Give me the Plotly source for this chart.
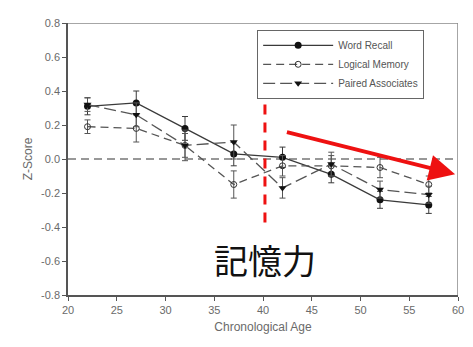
import plotly.graph_objects as go

ages = [22, 27, 32, 37, 42, 47, 52, 57]
word_recall = [0.31, 0.33, 0.18, 0.03, 0.01, -0.09, -0.24, -0.27]
word_recall_err = [0.05, 0.07, 0.07, 0.07, 0.06, 0.05, 0.05, 0.05]
logical_memory = [0.19, 0.18, 0.08, -0.15, -0.04, -0.04, -0.05, -0.15]
logical_memory_err = [0.04, 0.08, 0.07, 0.08, 0.06, 0.06, 0.06, 0.05]
paired_assoc = [0.32, 0.26, 0.08, 0.10, -0.17, -0.03, -0.18, -0.21]
paired_assoc_err = [0.04, 0.07, 0.09, 0.10, 0.06, 0.07, 0.05, 0.05]

x_ticks = [20, 25, 30, 35, 40, 45, 50, 55, 60]
y_ticks = [-0.8, -0.6, -0.4, -0.2, 0.0, 0.2, 0.4, 0.6, 0.8]
y_labels = ["-0.8", "-0.6", "-0.4", "-0.2", "0.0", "0.2", "0.4", "0.6", "0.8"]

line_col = "#3a3a3a"
gray = "#6a6a6a"

fig = go.Figure()

fig.add_trace(go.Scatter(
    x=ages, y=word_recall, name="Word Recall", mode="lines+markers",
    line=dict(color=line_col, width=1.3, dash="solid"),
    marker=dict(symbol="circle", size=7, color="#111"),
    error_y=dict(type="data", array=word_recall_err, color=line_col, thickness=1, width=3),
))
fig.add_trace(go.Scatter(
    x=ages, y=logical_memory, name="Logical Memory", mode="lines+markers",
    line=dict(color="#555", width=1.3, dash="8px,5px"),
    marker=dict(symbol="circle-open", size=6, color="#333", line=dict(width=1)),
    error_y=dict(type="data", array=logical_memory_err, color="#555", thickness=1, width=3),
))
fig.add_trace(go.Scatter(
    x=ages, y=paired_assoc, name="Paired Associates", mode="lines+markers",
    line=dict(color="#555", width=1.3, dash="12px,5px"),
    marker=dict(symbol="triangle-down", size=7, color="#111"),
    error_y=dict(type="data", array=paired_assoc_err, color="#555", thickness=1, width=3),
))

# zero reference line
fig.add_shape(type="line", x0=20, x1=60, y0=0, y1=0, xref="x", yref="y",
              line=dict(color="#777", width=1.5, dash="8px,5px"), layer="below")
# red dashed vertical line
fig.add_shape(type="line", x0=40.2, x1=40.2, y0=0.32, y1=-0.41, xref="x", yref="y",
              line=dict(color="#ee1111", width=3, dash="10px,8px"))
# top / right frame lines
fig.add_shape(type="line", x0=20, x1=60, y0=0.8, y1=0.8, xref="x", yref="y",
              line=dict(color="#888", width=1.5))
fig.add_shape(type="line", x0=60, x1=60, y0=-0.8, y1=0.8, xref="x", yref="y",
              line=dict(color="#888", width=1.5))

fig.add_annotation(x=59.7, y=-0.09, ax=42.3, ay=0.16, xref="x", yref="y",
                   axref="x", ayref="y", showarrow=True, arrowhead=2,
                   arrowsize=1.3, arrowwidth=4, arrowcolor="#ee1111", text="")
fig.add_annotation(x=40.2, y=-0.59, xref="x", yref="y", text="記憶力",
                   showarrow=False,
                   font=dict(family="Noto Sans CJK JP", size=34, color="#111"))

fig.update_layout(
    width=465, height=339,
    margin=dict(l=60, r=10, t=9, b=52),
    paper_bgcolor="white", plot_bgcolor="white",
    font=dict(family="Liberation Sans, Arial", color=gray, size=11),
    showlegend=True,
    legend=dict(x=0.485, y=0.975, xanchor="left", yanchor="top",
                bgcolor="white", bordercolor="#666", borderwidth=1,
                font=dict(size=10, color="#555"), tracegroupgap=0,
                itemwidth=70),
)
fig.update_xaxes(range=[20, 60], tickvals=x_ticks, showgrid=False, zeroline=False,
                 showline=True, linecolor="#555", linewidth=1.5,
                 ticks="outside", ticklen=4, tickcolor="#555",
                 title=dict(text="Chronological Age", font=dict(size=12, color=gray), standoff=8))
fig.update_yaxes(range=[-0.8, 0.8], tickvals=y_ticks, ticktext=y_labels, showgrid=False,
                 zeroline=False, showline=True, linecolor="#555", linewidth=1.5,
                 ticks="outside", ticklen=4, tickcolor="#555",
                 title=dict(text="Z-Score", font=dict(size=12, color=gray), standoff=6))

fig.write_html("out.html")
